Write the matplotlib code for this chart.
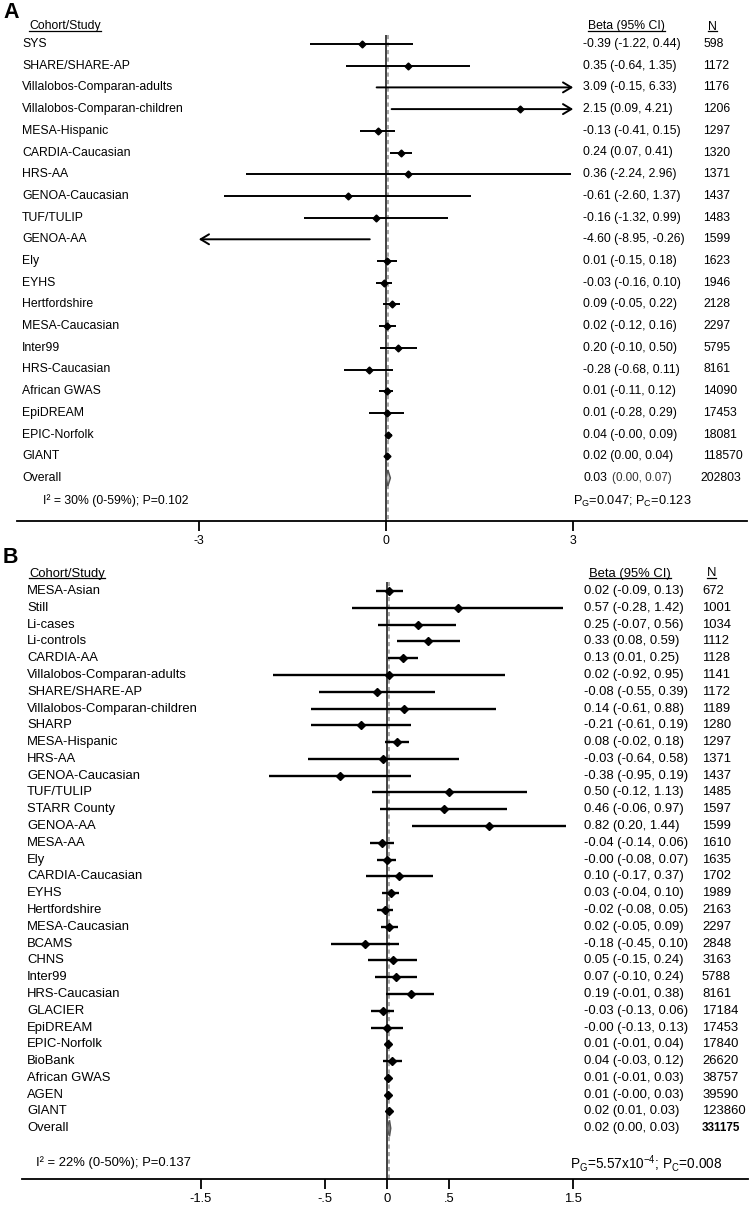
import matplotlib
matplotlib.use("Agg")
import matplotlib.pyplot as plt
from matplotlib.lines import Line2D
from matplotlib.patches import Polygon

plt.rcParams['font.family'] = ['Liberation Sans', 'DejaVu Sans']
plt.rcParams['mathtext.fontset'] = 'custom'
plt.rcParams['mathtext.rm'] = 'Liberation Sans'
plt.rcParams['mathtext.it'] = 'Liberation Sans'

# ---- panel A data ----
a_names = ["SYS", "SHARE/SHARE-AP", "Villalobos-Comparan-adults", "Villalobos-Comparan-children",
           "MESA-Hispanic", "CARDIA-Caucasian", "HRS-AA", "GENOA-Caucasian", "TUF/TULIP",
           "GENOA-AA", "Ely", "EYHS", "Hertfordshire", "MESA-Caucasian", "Inter99",
           "HRS-Caucasian", "African GWAS", "EpiDREAM", "EPIC-Norfolk", "GIANT"]
a_beta = [-0.39, 0.35, 3.09, 2.15, -0.13, 0.24, 0.36, -0.61, -0.16, -4.60,
          0.01, -0.03, 0.09, 0.02, 0.20, -0.28, 0.01, 0.01, 0.04, 0.02]
a_lo = [-1.22, -0.64, -0.15, 0.09, -0.41, 0.07, -2.24, -2.60, -1.32, -8.95,
        -0.15, -0.16, -0.05, -0.12, -0.10, -0.68, -0.11, -0.28, -0.0, 0.00]
a_hi = [0.44, 1.35, 6.33, 4.21, 0.15, 0.41, 2.96, 1.37, 0.99, -0.26,
        0.18, 0.10, 0.22, 0.16, 0.50, 0.11, 0.12, 0.29, 0.09, 0.04]
a_n = [598, 1172, 1176, 1206, 1297, 1320, 1371, 1437, 1483, 1599,
       1623, 1946, 2128, 2297, 5795, 8161, 14090, 17453, 18081, 118570]
a_overall = (0.03, 0.00, 0.07, 202803)
a_ticks = [-3, 0, 3]
a_ticklabels = ["-3", "0", "3"]
a_het = "I² = 30% (0-59%); P=0.102"
a_pval = r"$\mathregular{P_G}$=0.047; $\mathregular{P_C}$=0.123"

# ---- panel B data ----
b_names = ["MESA-Asian", "Still", "Li-cases", "Li-controls", "CARDIA-AA",
           "Villalobos-Comparan-adults", "SHARE/SHARE-AP", "Villalobos-Comparan-children",
           "SHARP", "MESA-Hispanic", "HRS-AA", "GENOA-Caucasian", "TUF/TULIP", "STARR County",
           "GENOA-AA", "MESA-AA", "Ely", "CARDIA-Caucasian", "EYHS", "Hertfordshire",
           "MESA-Caucasian", "BCAMS", "CHNS", "Inter99", "HRS-Caucasian", "GLACIER",
           "EpiDREAM", "EPIC-Norfolk", "BioBank", "African GWAS", "AGEN", "GIANT"]
b_beta = [0.02, 0.57, 0.25, 0.33, 0.13, 0.02, -0.08, 0.14, -0.21, 0.08, -0.03, -0.38,
          0.50, 0.46, 0.82, -0.04, -0.0, 0.10, 0.03, -0.02, 0.02, -0.18, 0.05, 0.07,
          0.19, -0.03, -0.0, 0.01, 0.04, 0.01, 0.01, 0.02]
b_lo = [-0.09, -0.28, -0.07, 0.08, 0.01, -0.92, -0.55, -0.61, -0.61, -0.02, -0.64, -0.95,
        -0.12, -0.06, 0.20, -0.14, -0.08, -0.17, -0.04, -0.08, -0.05, -0.45, -0.15, -0.10,
        -0.01, -0.13, -0.13, -0.01, -0.03, -0.01, -0.0, 0.01]
b_hi = [0.13, 1.42, 0.56, 0.59, 0.25, 0.95, 0.39, 0.88, 0.19, 0.18, 0.58, 0.19,
        1.13, 0.97, 1.44, 0.06, 0.07, 0.37, 0.10, 0.05, 0.09, 0.10, 0.24, 0.24,
        0.38, 0.06, 0.13, 0.04, 0.12, 0.03, 0.03, 0.03]
b_n = [672, 1001, 1034, 1112, 1128, 1141, 1172, 1189, 1280, 1297, 1371, 1437, 1485, 1597,
       1599, 1610, 1635, 1702, 1989, 2163, 2297, 2848, 3163, 5788, 8161, 17184, 17453,
       17840, 26620, 38757, 39590, 123860]
b_overall = (0.02, 0.00, 0.03, 331175)
b_ticks = [-1.5, -0.5, 0, 0.5, 1.5]
b_ticklabels = ["-1.5", "-.5", "0", ".5", "1.5"]
b_het = "I² = 22% (0-50%); P=0.137"
b_pval = r"$\mathregular{P_G}$=5.57x10$^{\mathregular{-4}}$; $\mathregular{P_C}$=0.008"

W, H = 750, 1207
fig = plt.figure(figsize=(W / 100, H / 100), dpi=100)

underlines = []


def panel(top, bottom, first_row, step, zero_px, scale, spine, cap, names, beta, lo, hi, n,
          overall, ticks, ticklabels, het, pval, fs, lw, ms, letter, xs):
    ax = fig.add_axes([0, (H - bottom) / H, 1, (bottom - top) / H])
    ax.set_xlim(-zero_px / scale, (W - zero_px) / scale)
    row = lambda px: (px - first_row) / step
    ax.set_ylim(row(bottom), row(top))
    for s in ["left", "right", "top"]:
        ax.spines[s].set_visible(False)
    ax.spines["bottom"].set_bounds((spine[0] - zero_px) / scale, (spine[1] - zero_px) / scale)
    ax.spines["bottom"].set_linewidth(1.3)
    ax.set_yticks([])
    ax.set_xticks(ticks)
    ax.set_xticklabels(ticklabels, fontsize=fs)
    ax.tick_params(axis="x", length=7, width=1.3, pad=3)
    tr = ax.get_yaxis_transform()

    nrow = len(names)
    ax.vlines(0, row(xs[0]), row(bottom), color="#333333", lw=1.3, zorder=1)
    ax.vlines(overall[0], row(xs[0]), row(bottom), color="#999999", lw=1.2,
              linestyles=(0, (2.5, 2)), zorder=1)

    for i in range(nrow):
        l, h, b = lo[i], hi[i], beta[i]
        left, right = max(l, -cap), min(h, cap)
        if h > cap or l < -cap:
            start, end = (l, cap) if h > cap else (h, -cap)
            ax.annotate("", xy=(end, i), xytext=(start, i),
                        arrowprops=dict(arrowstyle="->,head_length=0.5,head_width=0.3",
                                        lw=lw, color="k", shrinkA=0, shrinkB=0,
                                        mutation_scale=12))
        else:
            ax.plot([left, right], [i, i], color="k", lw=lw, solid_capstyle="butt", zorder=2)
        if -cap <= b <= cap:
            ax.plot(b, i, marker="D", color="k", ms=ms, zorder=3)
        ax.text(xs[1] / W, i, names[i], transform=tr, fontsize=fs, va="center")
        ax.text(xs[2] / W, i, f"{b:.2f} ({l:.2f}, {h:.2f})", transform=tr, fontsize=fs,
                va="center")
        ax.text(xs[3] / W, i, str(n[i]), transform=tr, fontsize=fs, va="center")

    ob, ol, oh, on = overall
    hh = 8.0 / step
    ax.add_patch(Polygon([[ol, nrow], [ob, nrow - hh], [oh, nrow], [ob, nrow + hh]],
                         closed=True, facecolor="#c8c8c8" if letter == "A" else "#888888",
                         edgecolor="#555555", lw=1.1, zorder=3))
    ax.text(xs[1] / W, nrow, "Overall", transform=tr, fontsize=fs, va="center")
    if letter == "A":
        ax.text(xs[2] / W, nrow, f"{ob:.2f}", transform=tr, fontsize=fs, va="center")
        ax.text(612 / W, nrow, f"({ol:.2f}, {oh:.2f})", transform=tr, fontsize=fs - 0.4,
                va="center", color="#333333")
        ax.text(700 / W, nrow, str(on), transform=tr, fontsize=fs, va="center")
    else:
        ax.text(xs[2] / W, nrow, f"{ob:.2f} ({ol:.2f}, {oh:.2f})", transform=tr, fontsize=fs,
                va="center")
        ax.text(xs[3] / W, nrow, str(on), transform=tr, fontsize=fs - 1, va="center",
                fontweight="bold")

    ax.text(xs[4] / W, row(xs[6]), het, transform=tr, fontsize=fs, va="center")
    ax.text(xs[5] / W, row(xs[6]), pval, transform=tr, fontsize=fs + 0.4, va="center")

    hy = row(xs[7])
    for x, s in [(29, "Cohort/Study"), (xs[2] + 5, "Beta (95% CI)"), (xs[3] + 5, "N")]:
        t = ax.text(x / W, hy, s, transform=tr, fontsize=fs, va="baseline")
        underlines.append((t, ax, hy))

    fig.text(3 / W, 1 - xs[8] / H, letter, fontsize=15.5, fontweight="bold", va="center")
    return ax


# xs: zero-line top, label x, beta x, N x, het x, pval x, het/pval y, header baseline, letter y
panel(0, 521, 44, 21.7, 386, 62.4, (17, 747), 3, a_names, a_beta, a_lo, a_hi, a_n, a_overall,
      a_ticks, a_ticklabels, a_het, a_pval, 8.8, 1.4, 3.5, "A",
      (35, 22, 583, 703, 43, 573, 501, 29.5, 12))
panel(550, 1179, 591, 16.79, 387, 124, (22, 748), 100, b_names, b_beta, b_lo, b_hi, b_n,
      b_overall, b_ticks, b_ticklabels, b_het, b_pval, 9.4, 1.7, 4.2, "B",
      (582, 27, 584, 702, 36, 570, 1163, 576.5, 557))

fig.canvas.draw()
r = fig.canvas.get_renderer()
for t, ax, hy in underlines:
    bb = t.get_window_extent(r)
    yb = ax.transData.transform((0, hy))[1] - 1.5
    fig.add_artist(Line2D([bb.x0, bb.x1], [yb, yb], transform=None, color="k", lw=0.9))

fig.savefig("out.png", dpi=100)
